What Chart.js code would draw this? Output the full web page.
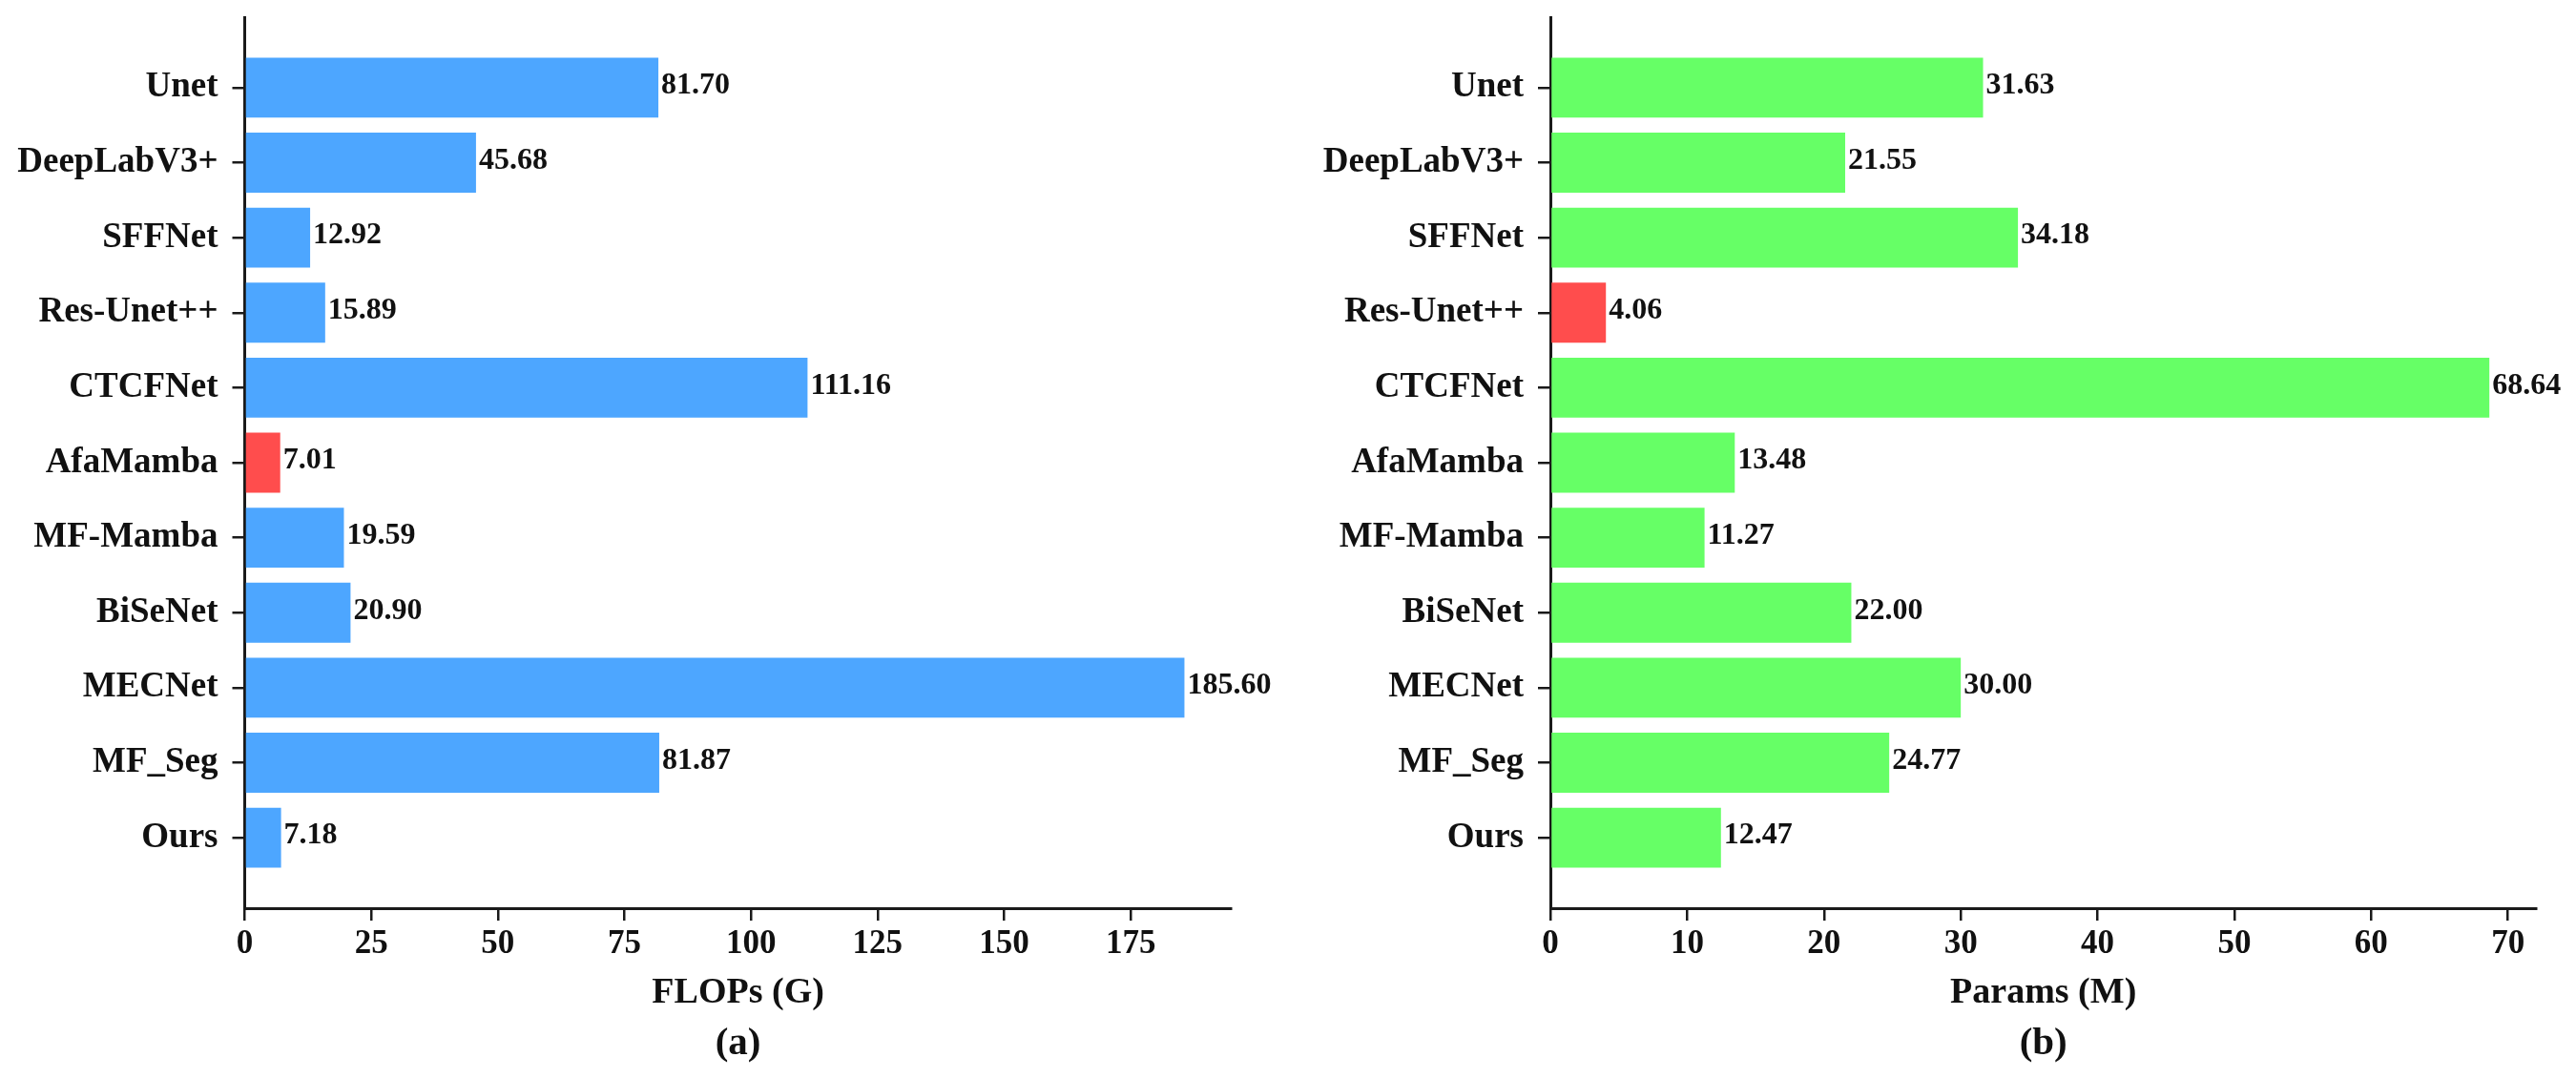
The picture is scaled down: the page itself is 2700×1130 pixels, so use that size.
<!DOCTYPE html>
<html>
<head>
<meta charset="utf-8">
<script src="https://cdn.jsdelivr.net/npm/chart.js@4.4.1/dist/chart.umd.min.js"></script>
<style>
html,body{margin:0;padding:0;background:#fff;}
#wrap{position:relative;width:2700px;height:1130px;overflow:hidden;background:#fff;}
.panel{position:absolute;top:0;width:1350px;height:1130px;}
canvas{display:block;}
</style>
</head>
<body>
<div id="wrap">
  <div class="panel" style="left:0px"><canvas id="c1" width="1350" height="1130"></canvas></div>
  <div class="panel" style="left:1350px"><canvas id="c2" width="1350" height="1130"></canvas></div>
</div>
<script>
// ---- data ----
const categories = ['Unet','DeepLabV3+','SFFNet','Res-Unet++','CTCFNet','AfaMamba','MF-Mamba','BiSeNet','MECNet','MF_Seg','Ours'];
const flopsValues = [81.70, 45.68, 12.92, 15.89, 111.16, 7.01, 19.59, 20.90, 185.60, 81.87, 7.18];
const paramsValues = [31.63, 21.55, 34.18, 4.06, 68.64, 13.48, 11.27, 22.00, 30.00, 24.77, 12.47];
const flopsTicks = [0, 25, 50, 75, 100, 125, 150, 175];
const paramsTicks = [0, 10, 20, 30, 40, 50, 60, 70];
const flopsAxisTitle = 'FLOPs (G)';
const paramsAxisTitle = 'Params (M)';
const panelTitleA = '(a)';
const panelTitleB = '(b)';

// ---- style ----
const FONT = '"Liberation Serif", "Times New Roman", Times, serif';
const INK = '#111111';
const AXIS = '#1a1a1a';
const BLUE = '#4da6ff';
const GREEN = '#66ff66';
const RED = '#ff4d4d';

Chart.defaults.font.family = FONT;
Chart.defaults.font.weight = 'bold';
Chart.defaults.color = INK;

const valueLabels = {
  id: 'valueLabels',
  afterDatasetsDraw(chart) {
    const ctx = chart.ctx;
    const meta = chart.getDatasetMeta(0);
    const ds = chart.data.datasets[0];
    ctx.save();
    ctx.font = 'bold 32px ' + FONT;
    ctx.fillStyle = INK;
    ctx.textAlign = 'left';
    ctx.textBaseline = 'middle';
    meta.data.forEach((bar, i) => {
      ctx.fillText(ds.data[i].x.toFixed(2), bar.x + 3, bar.y - 2);
    });
    ctx.restore();
  }
};

function makeChart(id, values, ticks, axisTitle, panelTitle, baseColor, yWidth, padRight) {
  const minVal = Math.min(...values);
  const n = categories.length;
  const barH = 0.8;
  const margin = 0.05 * (n - 1 + barH);
  const xMax = Math.max(...values) * 1.05;
  const CHART_TOP = 18, CHART_BOTTOM = 952, H = 1130;
  const titleFont = 41, titlePadBottom = 11;
  const titleH = titleFont * 1.2 + titlePadBottom;
  return new Chart(document.getElementById(id), {
    type: 'bar',
    data: {
      datasets: [{
        data: categories.map((c, i) => ({ x: values[i], y: i })),
        backgroundColor: values.map(v => v === minVal ? RED : baseColor),
        borderWidth: 0,
        barPercentage: 0.8,
        categoryPercentage: 1.0
      }]
    },
    options: {
      indexAxis: 'y',
      responsive: false,
      animation: false,
      devicePixelRatio: 1,
      layout: { padding: { top: CHART_TOP, bottom: 0, left: 0, right: padRight } },
      plugins: {
        legend: { display: false },
        tooltip: { enabled: false },
        title: {
          display: true,
          text: panelTitle,
          position: 'bottom',
          fullSize: false,
          color: INK,
          font: { size: titleFont, weight: 'bold', family: FONT, lineHeight: 1.2 },
          padding: { top: 0, bottom: titlePadBottom }
        }
      },
      scales: {
        y: {
          type: 'linear',
          position: 'left',
          reverse: true,
          offset: false,
          min: -barH / 2 - margin,
          max: n - 1 + barH / 2 + margin,
          afterBuildTicks(scale) { scale.ticks = categories.map((c, i) => ({ value: i })); },
          afterFit(scale) { scale.width = yWidth; scale.paddingTop = 0; scale.paddingBottom = 0; },
          ticks: {
            autoSkip: false,
            padding: 15,
            color: INK,
            font: { size: 37, weight: 'bold', family: FONT },
            callback: (v) => categories[v]
          },
          grid: { offset: false, drawOnChartArea: false, drawTicks: true, tickLength: 13, color: AXIS, lineWidth: 2.5 },
          border: { display: true, color: AXIS, width: 3 }
        },
        x: {
          type: 'linear',
          position: 'bottom',
          min: 0,
          max: xMax,
          afterBuildTicks(scale) { scale.ticks = ticks.map(v => ({ value: v })); },
          afterFit(scale) { scale.height = H - CHART_BOTTOM - titleH; scale.paddingLeft = 0; scale.paddingRight = 0; },
          ticks: {
            autoSkip: false,
            maxRotation: 0,
            padding: 4,
            color: INK,
            font: { size: 35, weight: 'bold', family: FONT },
            callback: (v) => String(v)
          },
          grid: { drawOnChartArea: false, drawTicks: true, tickLength: 13, color: AXIS, lineWidth: 2.5 },
          border: { display: true, color: AXIS, width: 3 },
          title: {
            display: true,
            text: axisTitle,
            color: INK,
            font: { size: 38, weight: 'bold', family: FONT, lineHeight: 1.2 },
            padding: { top: 0, bottom: 6 }
          }
        }
      }
    },
    plugins: [valueLabels]
  });
}

makeChart('c1', flopsValues, flopsTicks, flopsAxisTitle, panelTitleA, BLUE, 256.5, 59.3);
makeChart('c2', paramsValues, paramsTicks, paramsAxisTitle, panelTitleB, GREEN, 275, 41.6);
</script>
</body>
</html>
